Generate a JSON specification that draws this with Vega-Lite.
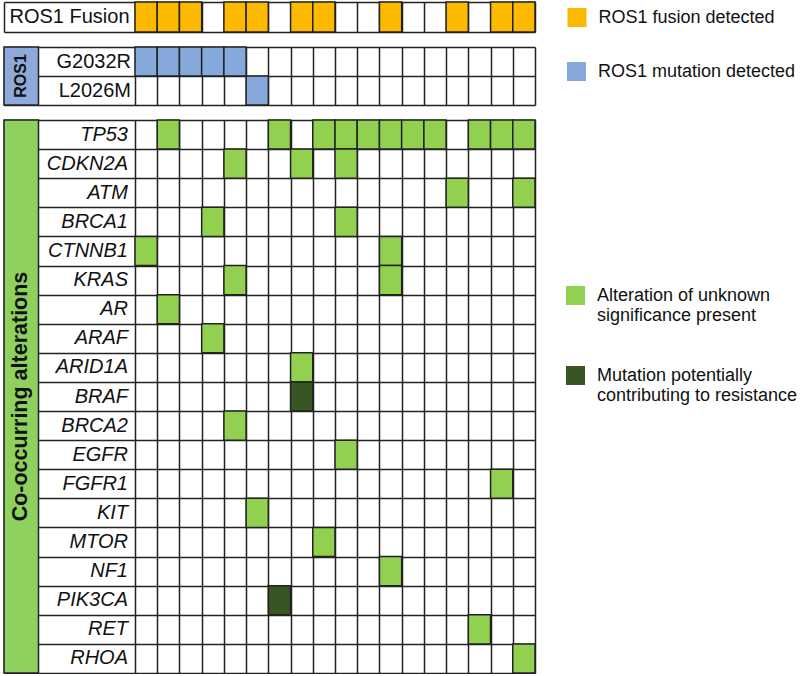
{
  "$schema": "https://vega.github.io/schema/vega-lite/v6.json",
  "background": "white",
  "padding": {"left": 3, "top": 1, "right": 0, "bottom": 0},
  "config": {
    "view": {"stroke": null},
    "font": "Liberation Sans",
    "legend": {
      "title": null,
      "orient": "none",
      "padding": 0,
      "labelFont": "Liberation Sans",
      "labelFontSize": 18,
      "labelColor": "#111",
      "labelLimit": 400,
      "labelOffset": 12,
      "symbolType": "square",
      "symbolSize": 361,
      "symbolStrokeWidth": 0,
      "symbolOpacity": 1
    }
  },
  "datasets": {
    "fusion_rows": [{"row": "ROS1 Fusion"}],
    "fusion_cells": [
      {"row": "ROS1 Fusion", "col": 1, "status": "ROS1 fusion detected"},
      {"row": "ROS1 Fusion", "col": 2, "status": "ROS1 fusion detected"},
      {"row": "ROS1 Fusion", "col": 3, "status": "ROS1 fusion detected"},
      {"row": "ROS1 Fusion", "col": 5, "status": "ROS1 fusion detected"},
      {"row": "ROS1 Fusion", "col": 6, "status": "ROS1 fusion detected"},
      {"row": "ROS1 Fusion", "col": 8, "status": "ROS1 fusion detected"},
      {"row": "ROS1 Fusion", "col": 9, "status": "ROS1 fusion detected"},
      {"row": "ROS1 Fusion", "col": 12, "status": "ROS1 fusion detected"},
      {"row": "ROS1 Fusion", "col": 15, "status": "ROS1 fusion detected"},
      {"row": "ROS1 Fusion", "col": 17, "status": "ROS1 fusion detected"},
      {"row": "ROS1 Fusion", "col": 18, "status": "ROS1 fusion detected"}
    ],
    "ros1_rows": [{"gene": "G2032R"}, {"gene": "L2026M"}],
    "ros1_cells": [
      {"gene": "G2032R", "col": 1, "status": "ROS1 mutation detected"},
      {"gene": "G2032R", "col": 2, "status": "ROS1 mutation detected"},
      {"gene": "G2032R", "col": 3, "status": "ROS1 mutation detected"},
      {"gene": "G2032R", "col": 4, "status": "ROS1 mutation detected"},
      {"gene": "G2032R", "col": 5, "status": "ROS1 mutation detected"},
      {"gene": "L2026M", "col": 6, "status": "ROS1 mutation detected"}
    ],
    "alt_rows": [
      {"gene": "TP53"}, {"gene": "CDKN2A"}, {"gene": "ATM"}, {"gene": "BRCA1"}, {"gene": "CTNNB1"},
      {"gene": "KRAS"}, {"gene": "AR"}, {"gene": "ARAF"}, {"gene": "ARID1A"}, {"gene": "BRAF"},
      {"gene": "BRCA2"}, {"gene": "EGFR"}, {"gene": "FGFR1"}, {"gene": "KIT"}, {"gene": "MTOR"},
      {"gene": "NF1"}, {"gene": "PIK3CA"}, {"gene": "RET"}, {"gene": "RHOA"}
    ],
    "alt_cells": [
      {"gene": "TP53", "col": 2, "status": "Alteration of unknown significance present"},
      {"gene": "TP53", "col": 7, "status": "Alteration of unknown significance present"},
      {"gene": "TP53", "col": 9, "status": "Alteration of unknown significance present"},
      {"gene": "TP53", "col": 10, "status": "Alteration of unknown significance present"},
      {"gene": "TP53", "col": 11, "status": "Alteration of unknown significance present"},
      {"gene": "TP53", "col": 12, "status": "Alteration of unknown significance present"},
      {"gene": "TP53", "col": 13, "status": "Alteration of unknown significance present"},
      {"gene": "TP53", "col": 14, "status": "Alteration of unknown significance present"},
      {"gene": "TP53", "col": 16, "status": "Alteration of unknown significance present"},
      {"gene": "TP53", "col": 17, "status": "Alteration of unknown significance present"},
      {"gene": "TP53", "col": 18, "status": "Alteration of unknown significance present"},
      {"gene": "CDKN2A", "col": 5, "status": "Alteration of unknown significance present"},
      {"gene": "CDKN2A", "col": 8, "status": "Alteration of unknown significance present"},
      {"gene": "CDKN2A", "col": 10, "status": "Alteration of unknown significance present"},
      {"gene": "ATM", "col": 15, "status": "Alteration of unknown significance present"},
      {"gene": "ATM", "col": 18, "status": "Alteration of unknown significance present"},
      {"gene": "BRCA1", "col": 4, "status": "Alteration of unknown significance present"},
      {"gene": "BRCA1", "col": 10, "status": "Alteration of unknown significance present"},
      {"gene": "CTNNB1", "col": 1, "status": "Alteration of unknown significance present"},
      {"gene": "CTNNB1", "col": 12, "status": "Alteration of unknown significance present"},
      {"gene": "KRAS", "col": 5, "status": "Alteration of unknown significance present"},
      {"gene": "KRAS", "col": 12, "status": "Alteration of unknown significance present"},
      {"gene": "AR", "col": 2, "status": "Alteration of unknown significance present"},
      {"gene": "ARAF", "col": 4, "status": "Alteration of unknown significance present"},
      {"gene": "ARID1A", "col": 8, "status": "Alteration of unknown significance present"},
      {"gene": "BRAF", "col": 8, "status": "Mutation potentially contributing to resistance"},
      {"gene": "BRCA2", "col": 5, "status": "Alteration of unknown significance present"},
      {"gene": "EGFR", "col": 10, "status": "Alteration of unknown significance present"},
      {"gene": "FGFR1", "col": 17, "status": "Alteration of unknown significance present"},
      {"gene": "KIT", "col": 6, "status": "Alteration of unknown significance present"},
      {"gene": "MTOR", "col": 9, "status": "Alteration of unknown significance present"},
      {"gene": "NF1", "col": 12, "status": "Alteration of unknown significance present"},
      {"gene": "PIK3CA", "col": 7, "status": "Mutation potentially contributing to resistance"},
      {"gene": "RET", "col": 16, "status": "Alteration of unknown significance present"},
      {"gene": "RHOA", "col": 18, "status": "Alteration of unknown significance present"}
    ]
  },
  "spacing": 15,
  "bounds": "flush",
  "resolve": {
    "scale": {"color": "independent", "x": "independent", "y": "independent"},
    "legend": {"color": "independent"}
  },
  "vconcat": [
    {
      "width": 531,
      "height": 30,
      "layer": [
        {
          "data": {"name": "fusion_cells"},
          "mark": {"type": "rect", "width": 22.22, "stroke": "#222", "strokeWidth": 1.5},
          "encoding": {
            "x": {
              "field": "col", "type": "quantitative",
              "scale": {"domain": [-5.395, 18.5], "nice": false, "zero": false, "padding": 0},
              "axis": {"values": [-5.395, 0.5, 1.5, 2.5, 3.5, 4.5, 5.5, 6.5, 7.5, 8.5, 9.5, 10.5, 11.5, 12.5, 13.5, 14.5, 15.5, 16.5, 17.5, 18.5],
                       "tickCount": 60, "zindex": 0,
                       "grid": true, "gridColor": "#222", "gridWidth": 1.5, "gridOpacity": 1,
                       "labels": false, "ticks": false, "domain": false, "title": null}
            },
            "y": {
              "field": "row", "type": "nominal",
              "scale": {"domain": ["ROS1 Fusion"], "paddingInner": 0, "paddingOuter": 0},
              "axis": {"tickBand": "extent", "zindex": 0, "grid": true, "gridColor": "#222", "gridWidth": 1.5, "gridOpacity": 1,
                       "labels": false, "ticks": false, "domain": false, "title": null}
            },
            "color": {
              "field": "status", "type": "nominal",
              "scale": {"domain": ["ROS1 fusion detected"], "range": ["#FDB900"]},
              "legend": {"legendX": 563.5, "legendY": 6}
            }
          }
        },
        {
          "data": {"name": "fusion_rows"},
          "mark": {"type": "text", "fontSize": 20, "align": "center", "baseline": "middle", "color": "#111"},
          "encoding": {
            "x": {"datum": -2.4475},
            "y": {"field": "row", "type": "nominal"},
            "text": {"field": "row"}
          }
        }
      ]
    },
    {
      "width": 531,
      "height": 58,
      "layer": [
        {
          "data": {"name": "ros1_cells"},
          "mark": {"type": "rect", "width": 22.22, "stroke": "#222", "strokeWidth": 1.5},
          "encoding": {
            "x": {
              "field": "col", "type": "quantitative",
              "scale": {"domain": [-5.395, 18.5], "nice": false, "zero": false, "padding": 0},
              "axis": {"values": [-5.395, 0.5, 1.5, 2.5, 3.5, 4.5, 5.5, 6.5, 7.5, 8.5, 9.5, 10.5, 11.5, 12.5, 13.5, 14.5, 15.5, 16.5, 17.5, 18.5],
                       "tickCount": 60, "zindex": 0,
                       "grid": true, "gridColor": "#222", "gridWidth": 1.5, "gridOpacity": 1,
                       "labels": false, "ticks": false, "domain": false, "title": null}
            },
            "y": {
              "field": "gene", "type": "nominal",
              "scale": {"domain": ["G2032R", "L2026M"], "paddingInner": 0, "paddingOuter": 0},
              "axis": {"tickBand": "extent", "zindex": 0, "grid": true, "gridColor": "#222", "gridWidth": 1.5, "gridOpacity": 1,
                       "labels": false, "ticks": false, "domain": false, "title": null}
            },
            "color": {
              "field": "status", "type": "nominal",
              "scale": {"domain": ["ROS1 mutation detected"], "range": ["#86A9DC"]},
              "legend": {"legendX": 563, "legendY": 15}
            }
          }
        },
        {
          "data": {"values": [{"group": "ROS1"}]},
          "mark": {"type": "rect", "color": "#8EAADB", "stroke": "#222", "strokeWidth": 1.5},
          "encoding": {
            "x": {"datum": -5.395},
            "x2": {"datum": -3.8425}
          }
        },
        {
          "data": {"values": [{"group": "ROS1"}]},
          "mark": {"type": "text", "fontSize": 16, "fontWeight": "bold", "angle": 270, "align": "center", "baseline": "middle", "color": "#111"},
          "encoding": {
            "x": {"datum": -4.61875},
            "text": {"field": "group"}
          }
        },
        {
          "data": {"name": "ros1_rows"},
          "mark": {"type": "text", "fontSize": 20, "align": "right", "baseline": "middle", "dx": -4, "color": "#111"},
          "encoding": {
            "x": {"datum": 0.5},
            "y": {"field": "gene", "type": "nominal"},
            "text": {"field": "gene"}
          }
        }
      ]
    },
    {
      "width": 531,
      "height": 553,
      "layer": [
        {
          "data": {"name": "alt_cells"},
          "mark": {"type": "rect", "width": 22.22, "stroke": "#222", "strokeWidth": 1.5},
          "encoding": {
            "x": {
              "field": "col", "type": "quantitative",
              "scale": {"domain": [-5.395, 18.5], "nice": false, "zero": false, "padding": 0},
              "axis": {"values": [-5.395, 0.5, 1.5, 2.5, 3.5, 4.5, 5.5, 6.5, 7.5, 8.5, 9.5, 10.5, 11.5, 12.5, 13.5, 14.5, 15.5, 16.5, 17.5, 18.5],
                       "tickCount": 60, "zindex": 0,
                       "grid": true, "gridColor": "#222", "gridWidth": 1.5, "gridOpacity": 1,
                       "labels": false, "ticks": false, "domain": false, "title": null}
            },
            "y": {
              "field": "gene", "type": "nominal",
              "scale": {"domain": ["TP53", "CDKN2A", "ATM", "BRCA1", "CTNNB1", "KRAS", "AR", "ARAF", "ARID1A", "BRAF", "BRCA2", "EGFR", "FGFR1", "KIT", "MTOR", "NF1", "PIK3CA", "RET", "RHOA"], "paddingInner": 0, "paddingOuter": 0},
              "axis": {"tickBand": "extent", "zindex": 0, "grid": true, "gridColor": "#222", "gridWidth": 1.5, "gridOpacity": 1,
                       "labels": false, "ticks": false, "domain": false, "title": null}
            },
            "color": {
              "field": "status", "type": "nominal",
              "scale": {"domain": ["Alteration of unknown significance present", "Mutation potentially contributing to resistance"], "range": ["#92D050", "#375623"]},
              "legend": {
                "legendX": 562, "legendY": 166, "rowPadding": 41,
                "labelExpr": "datum.label == 'Alteration of unknown significance present' ? ['Alteration of unknown', 'significance present'] : ['Mutation potentially', 'contributing to resistance']"
              }
            }
          }
        },
        {
          "data": {"values": [{"group": "Co-occurring alterations"}]},
          "mark": {"type": "rect", "color": "#8ED15E", "stroke": "#222", "strokeWidth": 1.5},
          "encoding": {
            "x": {"datum": -5.395},
            "x2": {"datum": -3.8425}
          }
        },
        {
          "data": {"values": [{"group": "Co-occurring alterations"}]},
          "mark": {"type": "text", "fontSize": 21.5, "fontWeight": "bold", "angle": 270, "align": "center", "baseline": "middle", "color": "#111"},
          "encoding": {
            "x": {"datum": -4.61875},
            "text": {"field": "group"}
          }
        },
        {
          "data": {"name": "alt_rows"},
          "mark": {"type": "text", "fontSize": 20, "fontStyle": "italic", "align": "right", "baseline": "middle", "dx": -7, "color": "#111"},
          "encoding": {
            "x": {"datum": 0.5},
            "y": {"field": "gene", "type": "nominal"},
            "text": {"field": "gene"}
          }
        }
      ]
    }
  ]
}
